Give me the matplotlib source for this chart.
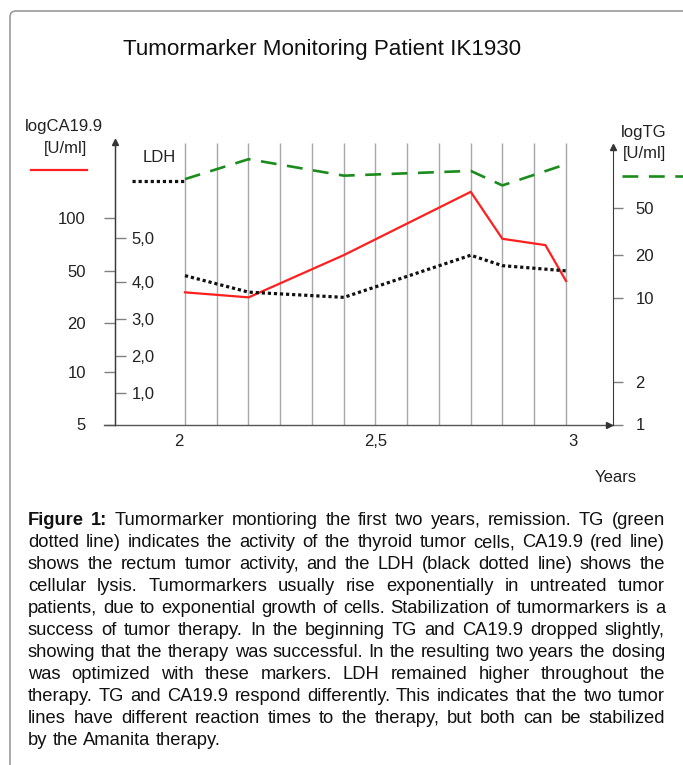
import numpy as np
import matplotlib
matplotlib.use('Agg')
import matplotlib.pyplot as plt
from matplotlib.lines import Line2D
from matplotlib.patches import FancyBboxPatch
from matplotlib.transforms import IdentityTransform, ScaledTranslation

W, H, DPI = 683, 765, 100
FONT = ['Liberation Sans', 'DejaVu Sans']
plt.rcParams['font.family'] = FONT

# ---------------- data ----------------
years_ca = [2.0, 2.167, 2.417, 2.75, 2.833, 2.946, 3.0]
ca199 = [34.4, 31.5, 61.5, 140, 76, 70, 42]
years_tg = [2.0, 2.167, 2.417, 2.75, 2.833, 3.0]
tg = [87, 128, 93, 102, 77, 116]
years_ldh = [2.0, 2.167, 2.417, 2.75, 2.833, 3.0]
ldh = [4.14, 3.72, 3.58, 4.61, 4.37, 4.25]

ca_ticks = [5, 10, 20, 50, 100]
ca_ticklabels = ['5', '10', '20', '50', '100']
tg_ticks = [1, 2, 10, 20, 50]
tg_ticklabels = ['1', '2', '10', '20', '50']
ldh_ticks = [1, 2, 3, 4, 5]
ldh_ticklabels = ['1,0', '2,0', '3,0', '4,0', '5,0']
x_ticks = [2, 2.5, 3]
x_ticklabels = ['2', '2,5', '3']
month_grid = 2 + np.arange(13) / 12

caption_lines = [
    "Figure 1: Tumormarker montioring the first two years, remission. TG (green",
    "dotted line) indicates the activity of the thyroid tumor cells, CA19.9 (red line)",
    "shows the rectum tumor activity, and the LDH (black dotted line) shows the",
    "cellular lysis. Tumormarkers usually rise exponentially in untreated tumor",
    "patients, due to exponential growth of cells. Stabilization of tumormarkers is a",
    "success of tumor therapy. In the beginning TG and CA19.9 dropped slightly,",
    "showing that the therapy was successful. In the resulting two years the dosing",
    "was optimized with these markers. LDH remained higher throughout the",
    "therapy. TG and CA19.9 respond differently. This indicates that the two tumor",
    "lines have different reaction times to the therapy, but both can be stabilized",
    "by the Amanita therapy.",
]

# tick anchor heights (px above the x axis) of the hand-drawn axes
AX_H = 284.5
CA_H = [0, 52.8, 101.2, 153.5, 206.8]
TG_H = [0, 42.8, 126.8, 169.5, 216.8]
LDH_H = [31.2, 68.5, 105.5, 142.8, 186.2]


def pl(x, xp, fp):
    x = np.asarray(x, dtype=float)
    xp = np.asarray(xp, float)
    fp = np.asarray(fp, float)
    y = np.interp(x, xp, fp)
    s0 = (fp[1] - fp[0]) / (xp[1] - xp[0])
    s1 = (fp[-1] - fp[-2]) / (xp[-1] - xp[-2])
    y = np.where(x < xp[0], fp[0] + (x - xp[0]) * s0, y)
    y = np.where(x > xp[-1], fp[-1] + (x - xp[-1]) * s1, y)
    return y


def make_funcs(ticks, hts, log):
    t = np.log10(ticks) if log else np.asarray(ticks, float)

    def fwd(v):
        v = np.asarray(v, float)
        if log:
            v = np.log10(np.clip(v, 1e-6, None))
        return pl(v, t, hts)

    def inv(h):
        r = pl(h, hts, t)
        return 10 ** r if log else r
    return fwd, inv


fwd_ca, inv_ca = make_funcs(ca_ticks, CA_H, True)
fwd_tg, inv_tg = make_funcs(tg_ticks, TG_H, True)
fwd_ldh, inv_ldh = make_funcs(ldh_ticks, LDH_H, False)

fig = plt.figure(figsize=(W / DPI, H / DPI), dpi=DPI)
fig.patch.set_facecolor('white')


def fx(x):
    return x / W


def fy(y):
    return 1 - y / H


# frame
frame = FancyBboxPatch((10, -30), 740, H - 11 + 30, boxstyle="round,pad=0,rounding_size=6",
                       transform=IdentityTransform(), facecolor='none',
                       edgecolor='#9a9a9a', lw=1.2)
fig.add_artist(frame)

RED = '#ff1f1f'
GREEN = '#1b8c1b'
BLACK = '#111111'
SPINE = '#3a3a3a'
TICKC = '#808080'

ax = fig.add_axes([115 / W, 1 - 424.5 / H, 498 / W, AX_H / H])
ax.patch.set_alpha(0)
ax.set_xlim(1.8163, 3.1234)
ax.set_yscale('function', functions=(fwd_ca, inv_ca))
ax.set_ylim(float(inv_ca(0)), float(inv_ca(AX_H)))
ax.set_yticks(ca_ticks)
ax.set_yticklabels(ca_ticklabels)
ax.set_xticks(x_ticks)
ax.set_xticklabels(x_ticklabels)
for s in ['top', 'right', 'bottom']:
    ax.spines[s].set_visible(False)
ax.spines['left'].set_color(SPINE)
ax.spines['left'].set_linewidth(1.0)
ax.tick_params(axis='y', direction='out', length=7.9, width=1, color=TICKC, pad=13,
               labelsize=12, labelcolor='#222222')
ax.tick_params(axis='x', length=0, pad=7, labelsize=12, labelcolor='#222222')
ax.minorticks_off()
# the hand-drawn year labels sit slightly off the grid lines
for lab, dx in zip(ax.get_xticklabels(), [-6, 0, 7]):
    lab.set_transform(lab.get_transform() + ScaledTranslation(dx / DPI, 0, fig.dpi_scale_trans))

# monthly grid lines
ax.vlines(month_grid, 0, 0.989, transform=ax.get_xaxis_transform(),
          color='#a8a8a8', lw=1.0, zorder=0.5)

# x axis line + arrows
ax.plot([-11 / 498, 1], [0, 0], transform=ax.transAxes, color='#555555', lw=1.0,
        clip_on=False, zorder=3)
ax.plot([1 - 4 / 498], [0], transform=ax.transAxes, marker='>', ms=4.5, color='#333333',
        clip_on=False, zorder=3)
ax.plot([0], [1 - 2 / AX_H], transform=ax.transAxes, marker='^', ms=4.5, color='#333333',
        clip_on=False, zorder=3)

# CA19.9
ax.plot(years_ca, ca199, color=RED, lw=1.6, zorder=4, solid_joinstyle='miter')

# TG axis (right)
ax_tg = ax.twinx()
ax_tg.set_yscale('function', functions=(fwd_tg, inv_tg))
ax_tg.set_ylim(float(inv_tg(0)), float(inv_tg(AX_H)))
ax_tg.set_yticks(tg_ticks)
ax_tg.set_yticklabels(tg_ticklabels)
ax_tg.minorticks_off()
for s in ['top', 'left', 'bottom']:
    ax_tg.spines[s].set_visible(False)
ax_tg.spines['right'].set_color(SPINE)
ax_tg.spines['right'].set_bounds(float(inv_tg(0)), float(inv_tg(AX_H - 5)))
ax_tg.tick_params(axis='y', direction='out', length=7.2, width=1, color=TICKC, pad=9,
                  labelsize=12, labelcolor='#222222')
ax_tg.plot([1], [(AX_H - 7) / AX_H], transform=ax_tg.transAxes, marker='^', ms=4.5,
           color='#333333', clip_on=False)
ax_tg.plot(years_tg, tg, color=GREEN, lw=1.9, linestyle=(0, (6, 4)), zorder=4)

# LDH axis (inner, on the left spine)
ax_ldh = ax.twinx()
ax_ldh.set_yscale('function', functions=(fwd_ldh, inv_ldh))
ax_ldh.set_ylim(float(inv_ldh(0)), float(inv_ldh(AX_H)))
ax_ldh.set_yticks(ldh_ticks)
ax_ldh.set_yticklabels(ldh_ticklabels)
ax_ldh.minorticks_off()
for s in ['top', 'left', 'bottom']:
    ax_ldh.spines[s].set_visible(False)
ax_ldh.spines['right'].set_position(('axes', 0))
ax_ldh.spines['right'].set_color(SPINE)
ax_ldh.tick_params(axis='y', direction='out', length=7.9, width=1, color=TICKC, pad=4,
                   labelsize=12, labelcolor='#222222')
ax_ldh.plot(years_ldh, ldh, color=BLACK, lw=2.3, linestyle=(0, (1, 0.9)),
            dash_capstyle='butt', zorder=4)

# axis titles & legend samples
tk = dict(fontsize=12, color='#222222', ha='center', va='center')
fig.text(fx(63.5), fy(127), 'logCA19.9', **tk)
fig.text(fx(65.3), fy(148), '[U/ml]', **tk)
fig.text(fx(159), fy(157), 'LDH', **tk)
fig.text(fx(644), fy(132), 'logTG', **tk)
fig.text(fx(645), fy(153.5), '[U/ml]', **tk)
fig.text(fx(616), fy(477), 'Years', **tk)

fig.add_artist(Line2D([fx(30.7), fx(86.7)], [fy(170)] * 2, transform=fig.transFigure,
                      color=RED, lw=1.6))
fig.add_artist(Line2D([fx(131.7), fx(185)], [fy(181)] * 2, transform=fig.transFigure,
                      color=BLACK, lw=2.3, linestyle=(0, (1, 0.9)), dash_capstyle='butt'))
fig.add_artist(Line2D([fx(621.7), fx(690)], [fy(176)] * 2, transform=fig.transFigure,
                      color=GREEN, lw=1.9, linestyle=(0, (6, 4))))

renderer = fig.canvas.get_renderer()


def text_w(s, size, weight='normal'):
    t = fig.text(0, 0, s, fontsize=size, fontweight=weight)
    w = t.get_window_extent(renderer).width
    t.remove()
    return w


# title
tw = text_w('Tumormarker Monitoring Patient IK1930', 16)
tsize = 16 * 398 / tw
fig.text(fx(321.7), fy(55), 'Tumormarker Monitoring Patient IK1930', fontsize=tsize,
         ha='center', va='baseline', color='#111111')

# caption, justified
LEFT, RIGHT = 28, 665
words_lines = []
for i, line in enumerate(caption_lines):
    ws = line.split(' ')
    items = []
    for j, wd in enumerate(ws):
        bold = (i == 0 and j < 2)
        items.append((wd, 'bold' if bold else 'normal'))
    words_lines.append(items)


def natural(items, size):
    sp = text_w('a a', size) - text_w('aa', size)
    return sum(text_w(w, size, wt) for w, wt in items) + sp * (len(items) - 1)


base = 12
maxnat = max(natural(it, base) for it in words_lines[:-1])
csize = base * 634 / maxnat
space = text_w('a a', csize) - text_w('aa', csize)

y0, dy = 525, 22.0
for i, items in enumerate(words_lines):
    widths = [text_w(w, csize, wt) for w, wt in items]
    if i < len(words_lines) - 1:
        gap = (RIGHT - LEFT - sum(widths)) / (len(items) - 1)
    else:
        gap = space
    x = LEFT
    for (w, wt), wd in zip(items, widths):
        fig.text(fx(x), fy(y0 + i * dy), w, fontsize=csize, fontweight=wt,
                 ha='left', va='baseline', color='#111111')
        x += wd + gap

fig.savefig('out.png', dpi=DPI, facecolor='white')
